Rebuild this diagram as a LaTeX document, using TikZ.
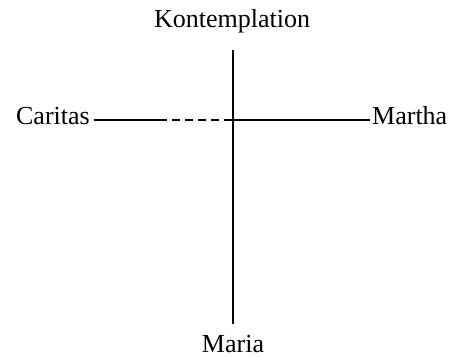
\documentclass[tikz,border=0pt]{standalone}
\usepackage{fontspec}
\setmainfont{Liberation Serif}
\begin{document}
\begin{tikzpicture}[x=1pt,y=-1pt,
  lbl/.style={font=\fontsize{26}{30}\selectfont, inner sep=0pt},
  ln/.style={line width=2.5pt}]
\useasboundingbox (0,0) rectangle (458,358);
\node[lbl, anchor=base] (k) at (232,28) {Kontemplation};
\node[lbl, anchor=base] (m) at (233,352) {Maria};
\node[lbl, anchor=base east] (c) at (90,125) {Caritas};
\node[lbl, anchor=base west] (r) at (372,125) {Martha};
\coordinate (top) at (233,50);
\coordinate (bot) at (233,324);
\coordinate (left) at (94,120);
\coordinate (ds) at (159,120);
\coordinate (cross) at (233,120);
\coordinate (right) at (370,120);
\draw[ln] (top) -- (bot);
\draw[ln] (left) -- (ds);
\draw[ln, dash pattern=on 8pt off 5pt] (ds) -- (cross);
\draw[ln] (cross) -- (right);
\end{tikzpicture}
\end{document}
